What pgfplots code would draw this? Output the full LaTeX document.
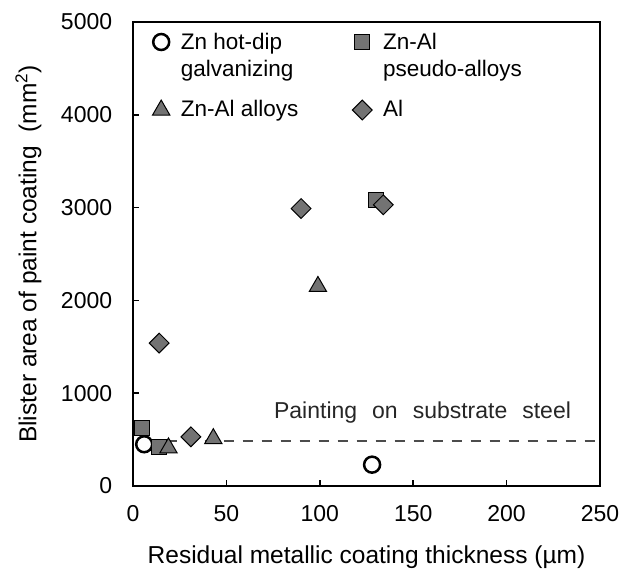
\documentclass[border=0pt]{standalone}
\usepackage{fontspec}
\setmainfont{Liberation Sans}
\usepackage{pgfplots}
\pgfplotsset{compat=1.18}
\newcommand{\twoline}[2]{\raisebox{0pt}[\height][0pt]{\begin{tabular}[t]{@{}l@{}}#1\\#2\end{tabular}}}
\begin{document}
\fontsize{23}{27}\selectfont
\begin{tikzpicture}
\begin{axis}[
 at={(0,0)}, anchor=south west, scale only axis,
 width=467pt, height=464pt,
 xmin=0, xmax=250, ymin=0, ymax=5000,
 xtick={0,50,...,250}, ytick={0,1000,...,5000},
 tick align=inside, xtick pos=bottom, ytick pos=left,
 major tick length=6pt,
 axis line style={line width=2.2pt},
 every tick/.style={black, line width=1.5pt},
 /pgf/number format/assume math mode=true,
 /pgf/number format/set thousands separator={},
 tick label style={font=\fontsize{23}{27}\selectfont},
 yticklabel style={xshift=-13pt},
 xticklabel style={yshift=-12pt},
 xlabel={Residual metallic coating thickness (µm)},
 ylabel={Blister area of paint coating\ \ (mm\textsuperscript{2})},
 label style={font=\fontsize{24.5}{28}\selectfont},
 xlabel style={yshift=-8pt},
 ylabel style={yshift=4pt},
 legend columns=2,
 legend style={draw=none, fill=none, at={(0.035,0.99)}, anchor=north west,
   font=\fontsize{22.5}{27}\selectfont,
   row sep=43pt,
   /tikz/every odd column/.append style={column sep=9pt},
   /tikz/every even column/.append style={column sep=52pt}},
 legend cell align=left,
 clip=false,
]
\addplot[forget plot, black!70, line width=2pt, dash pattern=on 10pt off 9pt] coordinates {(18,480) (250,480)};
\addplot[only marks, mark=o, mark size=8pt, mark options={line width=2.5pt, draw=black}] coordinates {(6,450) (128,230)};
\addlegendentry{\twoline{Zn\ hot-dip}{galvanizing}}
\addplot[only marks, mark=square*, mark size=7.5pt, mark options={fill=black!55, draw=black, line width=1pt}] coordinates {(5,620) (14,420) (130,3080)};
\addlegendentry{\twoline{Zn-Al}{pseudo-alloys}}
\addplot[only marks, mark=triangle*, mark size=10pt, mark options={fill=black!55, draw=black, line width=1pt}] coordinates {(19,410) (43,510) (99,2150)};
\addlegendentry{Zn-Al alloys}
\addplot[only marks, mark=square*, mark size=7pt, mark options={rotate=45, fill=black!55, draw=black, line width=1pt}] coordinates {(14,1540) (31,530) (90,2990) (134,3030)};
\addlegendentry{Al}
\node[font=\fontsize{23}{27}\selectfont, text=black!85] at (axis cs:155,790) {Painting\hspace{15pt}on\hspace{15pt}substrate\hspace{15pt}steel};
\end{axis}
\path (-133pt,-86pt) rectangle (500pt,486pt);
\end{tikzpicture}
\end{document}
